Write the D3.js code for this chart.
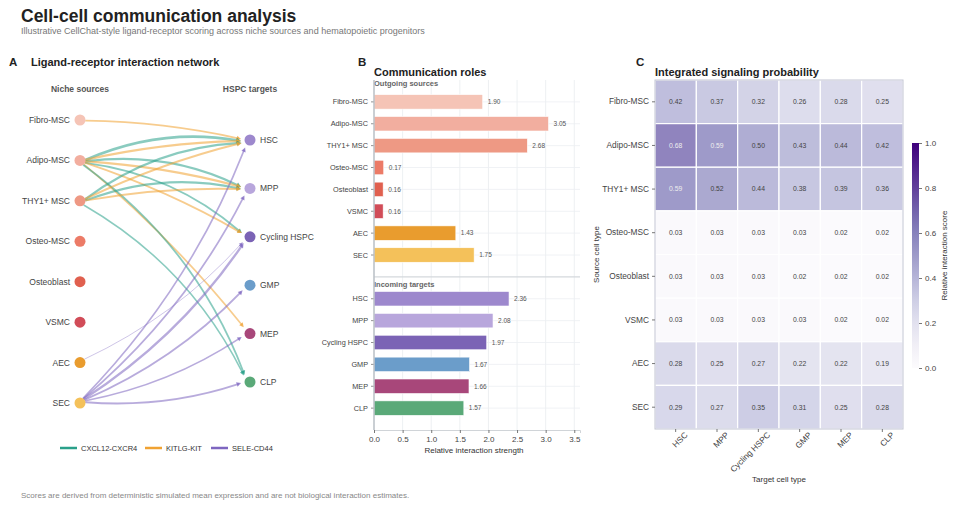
<!DOCTYPE html>
<html lang="en">
<head>
  <meta charset="UTF-8">
  <title>Cell-cell communication analysis</title>
  <script src="https://d3js.org/d3.v7.min.js"></script>
  <style>
    body { margin: 0; background: #fff; }
    svg { font-family: "Liberation Sans", Arial, sans-serif; }
  </style>
</head>
<body>
  <svg width="960" height="508"></svg>

  <script>
    // cell types
    var sources = ["Fibro-MSC", "Adipo-MSC", "THY1+ MSC", "Osteo-MSC", "Osteoblast", "VSMC", "AEC", "SEC"];
    var targets = ["HSC", "MPP", "Cycling HSPC", "GMP", "MEP", "CLP"];
    var sourceColors = ["#f5c4b6", "#f2ae9f", "#ee9984", "#ec7b67", "#e0604f", "#d14c58", "#e99c2e", "#f4c15a"];
    var targetColors = ["#9d88cd", "#b8a6dc", "#7b63b5", "#6b9dca", "#a8477a", "#5aa978"];

    // ligand-receptor pairs
    var pairs = ["CXCL12-CXCR4", "KITLG-KIT", "SELE-CD44"];
    var pairColors = ["#2aa08a", "#f0a232", "#7e66c0"];
    var pairBend = [0.15, 0.05, -0.1];

    // network edges (source, target, pair, weight)
    var edgeSource = ["Fibro-MSC", "Adipo-MSC", "Adipo-MSC", "Adipo-MSC", "Adipo-MSC", "Adipo-MSC", "Adipo-MSC", "Adipo-MSC", "Adipo-MSC",
                      "THY1+ MSC", "THY1+ MSC", "THY1+ MSC", "THY1+ MSC", "THY1+ MSC",
                      "AEC", "SEC", "SEC", "SEC", "SEC", "SEC", "SEC"];
    var edgeTarget = ["HSC", "HSC", "HSC", "MPP", "MPP", "Cycling HSPC", "Cycling HSPC", "MEP", "CLP",
                      "HSC", "HSC", "MPP", "MPP", "CLP",
                      "Cycling HSPC", "HSC", "MPP", "Cycling HSPC", "GMP", "MEP", "CLP"];
    var edgePair = ["KITLG-KIT", "CXCL12-CXCR4", "KITLG-KIT", "CXCL12-CXCR4", "KITLG-KIT", "CXCL12-CXCR4", "KITLG-KIT", "KITLG-KIT", "CXCL12-CXCR4",
                    "CXCL12-CXCR4", "KITLG-KIT", "CXCL12-CXCR4", "KITLG-KIT", "CXCL12-CXCR4",
                    "SELE-CD44", "SELE-CD44", "SELE-CD44", "SELE-CD44", "SELE-CD44", "SELE-CD44", "SELE-CD44"];
    var edgeWeight = [0.45, 0.68, 0.62, 0.59, 0.55, 0.50, 0.48, 0.44, 0.46,
                      0.59, 0.55, 0.52, 0.48, 0.40,
                      0.20, 0.42, 0.45, 0.60, 0.50, 0.42, 0.50];

    // panel B
    var outgoing = [1.90, 3.05, 2.68, 0.17, 0.16, 0.16, 1.43, 1.75];
    var incoming = [2.36, 2.08, 1.97, 1.67, 1.66, 1.57];
    var strengthTicks = [0, 0.5, 1, 1.5, 2, 2.5, 3, 3.5];

    // panel C
    var probs = [
      [0.42, 0.37, 0.32, 0.26, 0.28, 0.25],
      [0.68, 0.59, 0.50, 0.43, 0.44, 0.42],
      [0.59, 0.52, 0.44, 0.38, 0.39, 0.36],
      [0.03, 0.03, 0.03, 0.03, 0.02, 0.02],
      [0.03, 0.03, 0.03, 0.02, 0.02, 0.02],
      [0.03, 0.03, 0.03, 0.03, 0.02, 0.02],
      [0.28, 0.25, 0.27, 0.22, 0.22, 0.19],
      [0.29, 0.27, 0.35, 0.31, 0.25, 0.28]
    ];
    var scoreTicks = [0, 0.2, 0.4, 0.6, 0.8, 1.0];

    var svg = d3.select("svg");
    var ink = "#222";

    // header
    svg.append("text").attr("x", 21).attr("y", 22).attr("font-size", 17.5).attr("font-weight", "bold")
      .attr("fill", ink).text("Cell-cell communication analysis");
    svg.append("text").attr("x", 21).attr("y", 34).attr("font-size", 9).attr("fill", "#777")
      .text("Illustrative CellChat-style ligand-receptor scoring across niche sources and hematopoietic progenitors");
    svg.append("text").attr("x", 21).attr("y", 498).attr("font-size", 8).attr("fill", "#888")
      .text("Scores are derived from deterministic simulated mean expression and are not biological interaction estimates.");

    function panelLabel(x, y, t) {
      svg.append("text").attr("x", x).attr("y", y).attr("font-size", 11.5).attr("font-weight", "bold")
        .attr("fill", ink).text(t);
    }
    function panelTitle(x, y, t) {
      svg.append("text").attr("x", x).attr("y", y).attr("font-size", 11).attr("font-weight", "bold")
        .attr("fill", ink).text(t);
    }

    // ---------- A: network ----------
    panelLabel(9, 66, "A");
    panelTitle(31, 66, "Ligand-receptor interaction network");

    var gA = svg.append("g");
    var srcX = 80, tgtX = 250;
    var ySrc = d3.scalePoint().domain(sources).range([120, 403]);
    var yTgt = d3.scalePoint().domain(targets).range([140, 382]);
    var pairColor = d3.scaleOrdinal().domain(pairs).range(pairColors);
    var pairRad = d3.scaleOrdinal().domain(pairs).range(pairBend);
    var widthScale = d3.scaleLinear().domain([0.2, 0.7]).range([0.7, 2.8]);

    gA.append("text").attr("x", srcX).attr("y", 92).attr("text-anchor", "middle")
      .attr("font-size", 8.5).attr("font-weight", "bold").attr("fill", "#555").text("Niche sources");
    gA.append("text").attr("x", tgtX).attr("y", 92).attr("text-anchor", "middle")
      .attr("font-size", 8.5).attr("font-weight", "bold").attr("fill", "#555").text("HSPC targets");

    var edges = edgeSource.map(function(s, i) {
      return { source: s, target: edgeTarget[i], pair: edgePair[i], w: edgeWeight[i] };
    });

    var edgeG = gA.append("g");
    edges.forEach(function(e) {
      var x0 = srcX, y0 = ySrc(e.source), x1 = tgtX, y1 = yTgt(e.target);
      var dx = x1 - x0, dy = y1 - y0, len = Math.sqrt(dx * dx + dy * dy);
      var ux = dx / len, uy = dy / len;
      var sx = x0 + ux * 6, sy = y0 + uy * 6;
      var ex = x1 - ux * 9, ey = y1 - uy * 9;
      var r = pairRad(e.pair);
      var ldx = ex - sx, ldy = ey - sy;
      var cx = (sx + ex) / 2 + r * ldy, cy = (sy + ey) / 2 - r * ldx;
      var col = pairColor(e.pair);
      var sw = widthScale(e.w);
      var tx = ex - cx, ty = ey - cy, tl = Math.sqrt(tx * tx + ty * ty);
      tx /= tl; ty /= tl;
      var ah = 3.5 + sw * 0.5, aw = 1.6 + sw * 0.4;
      var bx = ex - tx * ah * 0.7, by = ey - ty * ah * 0.7;
      edgeG.append("path")
        .attr("d", "M" + sx + "," + sy + " Q" + cx + "," + cy + " " + bx + "," + by)
        .attr("fill", "none").attr("stroke", col).attr("stroke-width", sw)
        .attr("stroke-opacity", 0.55).attr("stroke-linecap", "round");
      var px = -ty, py = tx;
      var baseX = ex - tx * ah, baseY = ey - ty * ah;
      edgeG.append("path")
        .attr("d", "M" + ex + "," + ey + " L" + (baseX + px * aw) + "," + (baseY + py * aw) +
                   " L" + (baseX - px * aw) + "," + (baseY - py * aw) + "Z")
        .attr("fill", col).attr("fill-opacity", 0.75);
    });

    var srcNodes = gA.append("g").selectAll("g").data(sources).enter().append("g")
      .attr("transform", function(d) { return "translate(" + srcX + "," + ySrc(d) + ")"; });
    srcNodes.append("circle").attr("r", 5.5).attr("fill", function(d, i) { return sourceColors[i]; });
    srcNodes.append("text").attr("x", -10).attr("dy", "0.35em").attr("text-anchor", "end")
      .attr("font-size", 8.5).attr("fill", "#444").text(function(d) { return d; });

    var tgtNodes = gA.append("g").selectAll("g").data(targets).enter().append("g")
      .attr("transform", function(d) { return "translate(" + tgtX + "," + yTgt(d) + ")"; });
    tgtNodes.append("circle").attr("r", 5.5).attr("fill", function(d, i) { return targetColors[i]; });
    tgtNodes.append("text").attr("x", 10).attr("dy", "0.35em")
      .attr("font-size", 8.5).attr("fill", "#444").text(function(d) { return d; });

    // legend
    var legX = [60, 145, 211];
    var leg = gA.append("g").selectAll("g").data(pairs).enter().append("g")
      .attr("transform", function(d, i) { return "translate(" + legX[i] + ",448)"; });
    leg.append("line").attr("x1", 0).attr("x2", 17).attr("stroke", function(d) { return pairColor(d); })
      .attr("stroke-width", 2.5);
    leg.append("text").attr("x", 21).attr("dy", "0.35em").attr("font-size", 7.5).attr("fill", "#333")
      .text(function(d) { return d; });

    // ---------- B: communication roles ----------
    panelLabel(358, 66, "B");
    panelTitle(374, 76, "Communication roles");

    var bL = 374, bR = 580, bT = 80, bB = 430;
    var rowsB = sources.concat(["__gap"]).concat(targets);
    var yB = d3.scalePoint().domain(["__top"].concat(rowsB).concat(["__bottom"])).range([bT, bB]);
    var xB = d3.scaleLinear().domain([0, 3.6]).range([bL, bR]);
    var gB = svg.append("g");

    // grid
    gB.selectAll(".vg").data(strengthTicks).enter().append("line")
      .attr("x1", function(d) { return xB(d); }).attr("x2", function(d) { return xB(d); })
      .attr("y1", bT).attr("y2", bB).attr("stroke", "#e9ecef").attr("stroke-width", 0.8);
    gB.selectAll(".hg").data(sources.concat(targets)).enter().append("line")
      .attr("x1", bL).attr("x2", bR).attr("y1", function(d) { return yB(d); }).attr("y2", function(d) { return yB(d); })
      .attr("stroke", "#eceff2").attr("stroke-width", 0.8);
    gB.append("line").attr("x1", bL).attr("x2", bR).attr("y1", yB("__gap")).attr("y2", yB("__gap"))
      .attr("stroke", "#d4d8dc").attr("stroke-width", 1.4);

    gB.append("text").attr("x", bL).attr("y", bT + 6).attr("font-size", 7.5).attr("font-weight", "bold")
      .attr("fill", "#666").text("Outgoing sources");
    gB.append("text").attr("x", bL).attr("y", yB("__gap") + 10).attr("font-size", 7.5).attr("font-weight", "bold")
      .attr("fill", "#666").text("Incoming targets");

    var barH = 14.5;
    var barData = sources.map(function(s, i) { return { name: s, v: outgoing[i], c: sourceColors[i] }; })
      .concat(targets.map(function(t, i) { return { name: t, v: incoming[i], c: targetColors[i] }; }));

    gB.selectAll(".bar").data(barData).enter().append("rect")
      .attr("x", bL).attr("y", function(d) { return yB(d.name) - barH / 2; })
      .attr("width", function(d) { return xB(d.v) - bL; }).attr("height", barH)
      .attr("fill", function(d) { return d.c; }).attr("stroke", "#fff").attr("stroke-width", 0.6);
    gB.selectAll(".val").data(barData).enter().append("text")
      .attr("x", function(d) { return xB(d.v) + 5; }).attr("y", function(d) { return yB(d.name); })
      .attr("dy", "0.35em").attr("font-size", 6.5).attr("fill", "#555")
      .text(function(d) { return d.v.toFixed(2); });

    gB.selectAll(".yl").data(barData).enter().append("text")
      .attr("x", bL - 6).attr("y", function(d) { return yB(d.name); }).attr("dy", "0.35em")
      .attr("text-anchor", "end").attr("font-size", 7.3).attr("fill", "#444").text(function(d) { return d.name; });
    gB.selectAll(".yt").data(barData).enter().append("line")
      .attr("x1", bL - 3).attr("x2", bL).attr("y1", function(d) { return yB(d.name); }).attr("y2", function(d) { return yB(d.name); })
      .attr("stroke", "#777").attr("stroke-width", 0.8);

    var xAxisB = d3.axisBottom(xB).tickValues(strengthTicks).tickFormat(d3.format(".1f")).tickSize(3);
    var axB = gB.append("g").attr("transform", "translate(0," + bB + ")").call(xAxisB);
    axB.select(".domain").attr("stroke", "#d0d4d8");
    axB.selectAll(".tick line").attr("stroke", "#777");
    axB.selectAll("text").attr("font-size", 8).attr("fill", "#444").attr("font-family", "Liberation Sans, Arial, sans-serif");
    gB.append("line").attr("x1", bL).attr("x2", bL).attr("y1", bT).attr("y2", bB)
      .attr("stroke", "#b8bec4").attr("stroke-width", 1.4);
    gB.append("text").attr("x", (bL + 574) / 2).attr("y", bB + 23).attr("text-anchor", "middle")
      .attr("font-size", 8).attr("fill", "#333").text("Relative interaction strength");

    // ---------- C: heatmap ----------
    panelLabel(636, 66, "C");
    panelTitle(655, 76, "Integrated signaling probability");

    var hL = 655, hR = 903, hT = 80, hB = 429;
    var xC = d3.scaleBand().domain(targets).range([hL, hR]);
    var yC = d3.scaleBand().domain(sources).range([hT, hB]);
    var colorC = d3.scaleSequential(d3.interpolatePurples).domain([0, 1]);
    var gC = svg.append("g");

    var cells = [];
    sources.forEach(function(s, i) {
      targets.forEach(function(t, j) { cells.push({ s: s, t: t, v: probs[i][j] }); });
    });
    gC.selectAll(".cell").data(cells).enter().append("rect")
      .attr("x", function(d) { return xC(d.t); }).attr("y", function(d) { return yC(d.s); })
      .attr("width", xC.bandwidth()).attr("height", yC.bandwidth())
      .attr("fill", function(d) { return colorC(d.v); }).attr("fill-opacity", 0.82)
      .attr("stroke", "#fff").attr("stroke-width", 1.2);
    gC.selectAll(".ct").data(cells).enter().append("text")
      .attr("x", function(d) { return xC(d.t) + xC.bandwidth() / 2; })
      .attr("y", function(d) { return yC(d.s) + yC.bandwidth() / 2; })
      .attr("dy", "0.35em").attr("text-anchor", "middle").attr("font-size", 6.8)
      .attr("fill", function(d) { return d.v > 0.55 ? "#eee" : "#444"; })
      .text(function(d) { return d.v.toFixed(2); });
    gC.append("rect").attr("x", hL).attr("y", hT).attr("width", hR - hL).attr("height", hB - hT)
      .attr("fill", "none").attr("stroke", "#c3c6d4").attr("stroke-width", 1);

    var yAxisC = d3.axisLeft(yC).tickSize(3).tickPadding(3);
    var ayC = gC.append("g").attr("transform", "translate(" + hL + ",0)").call(yAxisC);
    ayC.select(".domain").remove();
    ayC.selectAll(".tick line").attr("stroke", "#777");
    ayC.selectAll("text").attr("font-size", 8.3).attr("fill", "#444").attr("font-family", "Liberation Sans, Arial, sans-serif");

    var xAxisC = d3.axisBottom(xC).tickSize(3);
    var axC = gC.append("g").attr("transform", "translate(0," + hB + ")").call(xAxisC);
    axC.select(".domain").remove();
    axC.selectAll(".tick line").attr("stroke", "#777");
    axC.selectAll("text").attr("font-size", 8.3).attr("fill", "#444").attr("font-family", "Liberation Sans, Arial, sans-serif")
      .attr("text-anchor", "end").attr("dx", "0.5em").attr("dy", "0.9em")
      .attr("transform", "rotate(-45)");

    gC.append("text").attr("transform", "translate(599," + (hT + hB) / 2 + ") rotate(-90)")
      .attr("text-anchor", "middle").attr("font-size", 8).attr("fill", "#333").text("Source cell type");
    gC.append("text").attr("x", (hL + hR) / 2).attr("y", 482).attr("text-anchor", "middle")
      .attr("font-size", 8).attr("fill", "#333").text("Target cell type");

    // colorbar
    var cbX = 912, cbW = 7, cbT = 143, cbB = 368;
    var yCb = d3.scaleLinear().domain([0, 1]).range([cbB, cbT]);
    var defs = svg.append("defs");
    var grad = defs.append("linearGradient").attr("id", "cbgrad")
      .attr("x1", "0").attr("x2", "0").attr("y1", "1").attr("y2", "0");
    d3.range(0, 1.01, 0.1).forEach(function(t) {
      grad.append("stop").attr("offset", t).attr("stop-color", colorC(t));
    });
    svg.append("rect").attr("x", cbX).attr("y", cbT).attr("width", cbW).attr("height", cbB - cbT)
      .attr("fill", "url(#cbgrad)");
    var cbAxis = d3.axisRight(yCb).tickValues(scoreTicks).tickFormat(d3.format(".1f")).tickSize(3);
    var acb = svg.append("g").attr("transform", "translate(" + (cbX + cbW) + ",0)").call(cbAxis);
    acb.select(".domain").remove();
    acb.selectAll(".tick line").attr("stroke", "#777");
    acb.selectAll("text").attr("font-size", 8).attr("fill", "#444").attr("font-family", "Liberation Sans, Arial, sans-serif");
    svg.append("text").attr("transform", "translate(947," + (cbT + cbB) / 2 + ") rotate(-90)")
      .attr("text-anchor", "middle").attr("font-size", 8).attr("fill", "#333").text("Relative interaction score");
  </script>
</body>
</html>
